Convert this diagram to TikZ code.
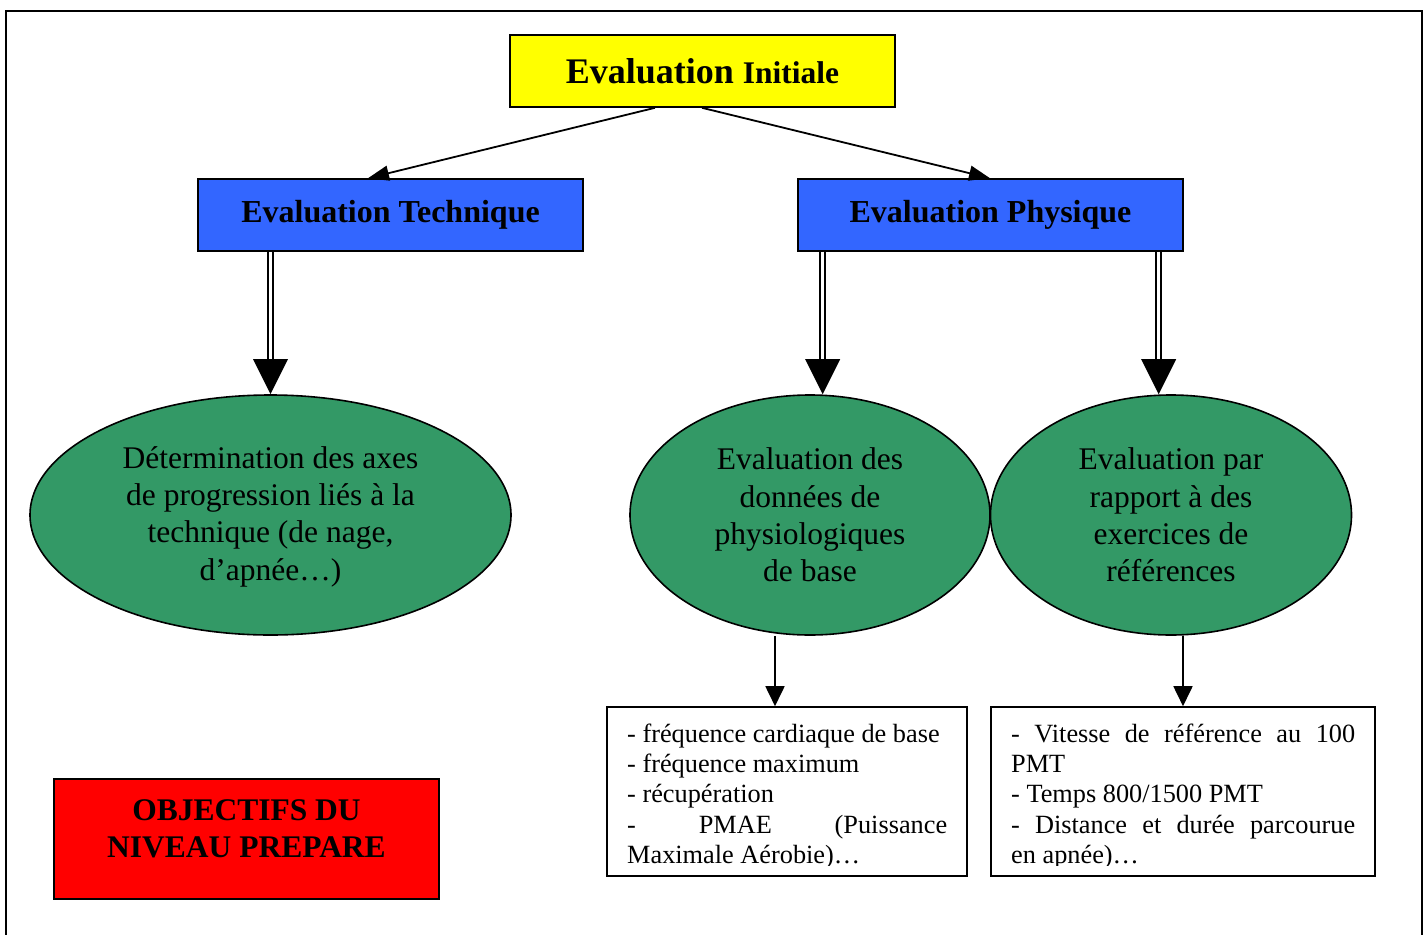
\documentclass[tikz,border=0pt]{standalone}
\usepackage{fontspec}
\setmainfont{Liberation Serif}
\usetikzlibrary{shapes.geometric,arrows.meta}
\definecolor{cyel}{HTML}{FFFF00}
\definecolor{cblue}{HTML}{3366FF}
\definecolor{cgreen}{HTML}{339966}
\definecolor{cred}{HTML}{FF0000}
\begin{document}
\begin{tikzpicture}[x=1pt,y=-1pt,
  boxst/.style={draw=black, line width=1.6pt, rectangle, inner sep=0pt},
  headbox/.style={boxst, minimum width=385pt, minimum height=72pt},
  ellst/.style={draw=black, line width=1.6pt, ellipse, fill=cgreen, inner sep=0pt, align=center, font=\fontsize{31.5}{37.3}\selectfont},
  listtxt/.style={anchor=north west, inner sep=0pt, align=left, font=\fontsize{26.3}{30.3}\selectfont},
  arrtop/.style={line width=1.8pt, -{Triangle[length=21pt,width=15pt]}},
  arr/.style={line width=1.8pt, -{Triangle[length=20pt,width=19pt]}},
  dbl/.style={double=white, double distance=3pt, line width=1.9pt},
]
\useasboundingbox (0,0) rectangle (1428,935);
\draw[line width=2pt] (6,11) rectangle (1422,960);

% top
\node[headbox, fill=cyel, font=\bfseries] (init) at (702.5,71)
  {\fontsize{36}{40}\selectfont Evaluation \fontsize{31.5}{40}\selectfont Initiale};
\node[headbox, fill=cblue, font=\bfseries\fontsize{32}{38}\selectfont] (tech) at (390.5,215) {Evaluation Technique};
\node[headbox, fill=cblue, font=\bfseries\fontsize{32}{38}\selectfont] (phys) at (990.5,215) {Evaluation Physique};

% ellipses
\node[ellst, minimum width=481pt, minimum height=240pt] (ell1) at (270.5,515)
  {\rule{0pt}{25pt}Détermination des axes\\de progression liés à la\\technique (de nage,\\d’apnée…)};
\node[ellst, minimum width=360pt, minimum height=240pt] (ell2) at (810,515)
  {Evaluation des\\données de\\physiologiques\\de base};
\node[ellst, minimum width=361pt, minimum height=240pt] (ell3) at (1171,515)
  {Evaluation par\\rapport à des\\exercices de\\références};

% bottom boxes
\node[boxst, minimum width=360pt, minimum height=169pt] (b1) at (787,791.5) {};
\node[boxst, minimum width=384pt, minimum height=169pt] (b2) at (1183,791.5) {};
\begin{scope}
  \clip (600,700) rectangle (1400,865.5);
  \node[listtxt] (t1) at (627,722)
    {\rule{0pt}{20pt}- fréquence cardiaque de base\\- fréquence maximum\\- récupération\\\hbox to 320pt{-\hfill PMAE\hfill (Puissance}\\Maximale Aérobie)…};
  \node[listtxt] (t2) at (1011,722)
    {\rule{0pt}{20pt}\hbox to 344pt{-\hfill Vitesse\hfill de\hfill référence\hfill au\hfill 100}\\PMT\\- Temps 800/1500 PMT\\\hbox to 344pt{-\hfill Distance\hfill et\hfill durée\hfill parcourue}\\en apnée)…};
\end{scope}

% red box
\node[boxst, fill=cred, minimum width=385pt, minimum height=120pt] (obj) at (246.5,839) {};
\node[anchor=north, inner sep=0pt, align=center, font=\bfseries\fontsize{31.5}{37}\selectfont] (objt) at (246.5,798)
  {\rule{0pt}{22pt}OBJECTIFS DU\\NIVEAU PREPARE};

% connectors
\draw[arrtop] (655,0 |- init.south) -- (368,0 |- tech.north);
\draw[arrtop] (702,0 |- init.south) -- (990,0 |- phys.north);

\foreach \xx/\src/\tgt in {270.5/tech/ell1, 822.7/phys/ell2, 1158.7/phys/ell3} {
  \draw[dbl, shorten >=34pt] (\xx,0 |- \src.south) -- (\xx,0 |- \tgt.north);
  \fill (\xx,0 |- \tgt.north) -- ++(-17.5,-35) -- ++(35,0) -- cycle;
}

\draw[arr] (775,0 |- ell2.south) -- (775,0 |- b1.north);
\draw[arr] (1183,0 |- ell3.south) -- (1183,0 |- b2.north);
\end{tikzpicture}
\end{document}
